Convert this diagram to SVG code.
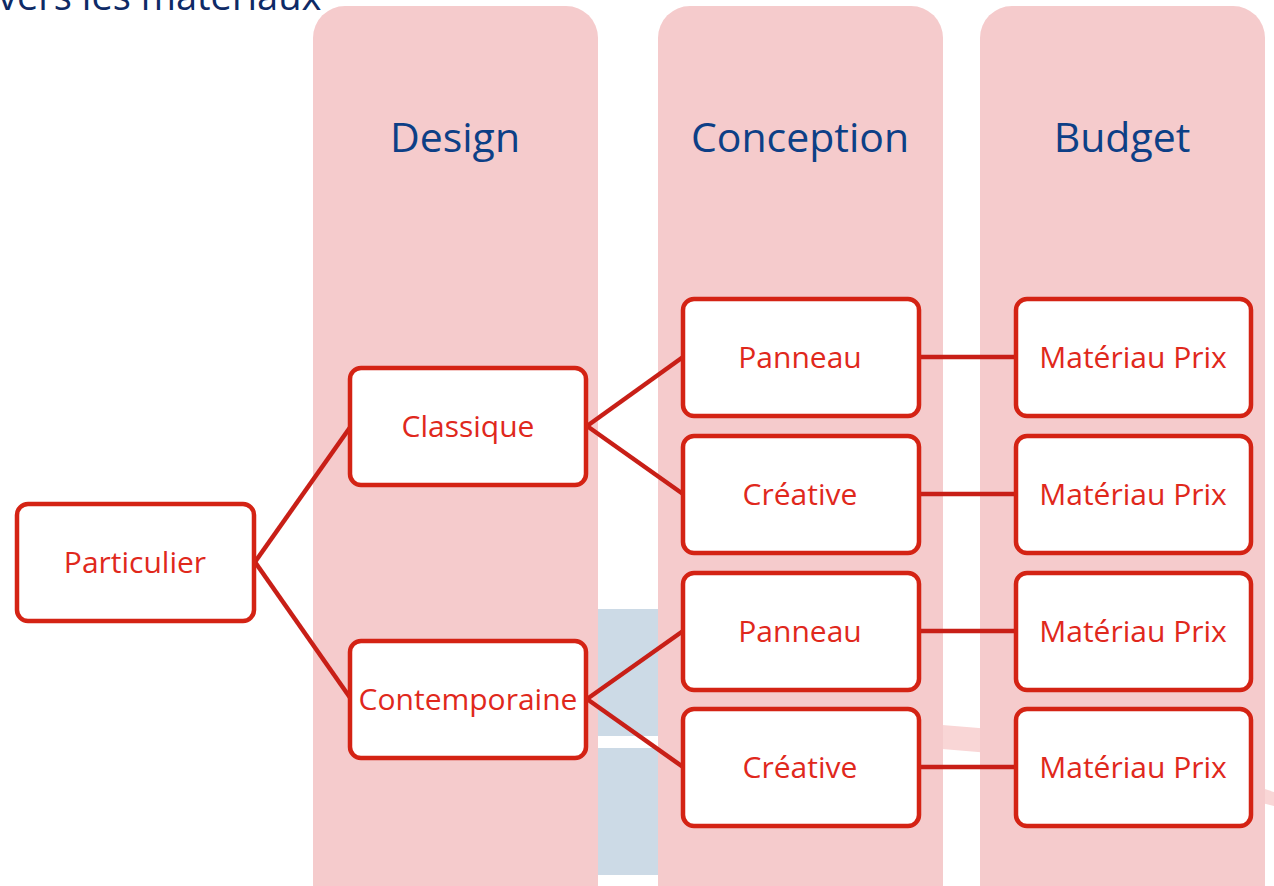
<svg xmlns="http://www.w3.org/2000/svg" width="1274" height="886" viewBox="0 0 1274 886">
<style>
.col{fill:#f5cbcc}
.hdr{font-family:"Open Sans","Liberation Sans",sans-serif;font-size:41px;fill:#0d3f86;text-anchor:middle}
.box{fill:#ffffff;stroke:#d42314;stroke-width:4.5}
.lbl{font-family:"Open Sans","Liberation Sans",sans-serif;font-size:30px;fill:#e0281c;text-anchor:middle}
.con{stroke:#c81f17;stroke-width:4.5;fill:none}
</style>
<rect width="1274" height="886" fill="#ffffff"/>
<g id="background">
<text x="-2" y="10" style="font-family:'Open Sans','Liberation Sans',sans-serif;font-size:38px;fill:#0e2a66">vers les matériaux</text>
<rect x="597" y="609" width="63" height="127" fill="#ccdae6"/>
<rect x="597" y="748" width="63" height="127" fill="#ccdae6"/>
<path d="M930 724 Q1100 735 1274 792 L1274 806 Q1100 760 930 748 Z" fill="#f9d6d6"/>
</g>
<g id="columns">
<g id="col-design"><rect class="col" x="313" y="6" width="285" height="910" rx="32"/><text class="hdr" x="455" y="152">Design</text></g>
<g id="col-conception"><rect class="col" x="658" y="6" width="285" height="910" rx="32"/><text class="hdr" x="800" y="152">Conception</text></g>
<g id="col-budget"><rect class="col" x="980" y="6" width="285" height="910" rx="32"/><text class="hdr" x="1122" y="152">Budget</text></g>
</g>
<g id="connectors">
<line class="con" x1="255" y1="562" x2="351" y2="426"/>
<line class="con" x1="255" y1="562" x2="351" y2="699"/>
<line class="con" x1="587" y1="426" x2="683" y2="357"/>
<line class="con" x1="587" y1="426" x2="683" y2="494"/>
<line class="con" x1="587" y1="699" x2="683" y2="631"/>
<line class="con" x1="587" y1="699" x2="683" y2="767"/>
<line class="con" x1="919" y1="357" x2="1016" y2="357"/>
<line class="con" x1="919" y1="494" x2="1016" y2="494"/>
<line class="con" x1="919" y1="631" x2="1016" y2="631"/>
<line class="con" x1="919" y1="767" x2="1016" y2="767"/>
</g>
<g id="n-particulier"><rect class="box" x="17" y="504" width="237" height="117" rx="11"/><text class="lbl" x="135" y="573">Particulier</text></g>
<g id="n-classique"><rect class="box" x="350" y="368" width="236" height="117" rx="11"/><text class="lbl" x="468" y="437">Classique</text></g>
<g id="n-contemporaine"><rect class="box" x="350" y="641" width="236" height="117" rx="11"/><text class="lbl" x="468" y="710">Contemporaine</text></g>
<g id="n-panneau1"><rect class="box" x="683" y="299" width="236" height="117" rx="11"/><text class="lbl" x="800" y="368">Panneau</text></g>
<g id="n-creative1"><rect class="box" x="683" y="436" width="236" height="117" rx="11"/><text class="lbl" x="800" y="505">Créative</text></g>
<g id="n-panneau2"><rect class="box" x="683" y="573" width="236" height="117" rx="11"/><text class="lbl" x="800" y="642">Panneau</text></g>
<g id="n-creative2"><rect class="box" x="683" y="709" width="236" height="117" rx="11"/><text class="lbl" x="800" y="778">Créative</text></g>
<g id="n-prix1"><rect class="box" x="1016" y="299" width="235" height="117" rx="11"/><text class="lbl" x="1133" y="368">Matériau Prix</text></g>
<g id="n-prix2"><rect class="box" x="1016" y="436" width="235" height="117" rx="11"/><text class="lbl" x="1133" y="505">Matériau Prix</text></g>
<g id="n-prix3"><rect class="box" x="1016" y="573" width="235" height="117" rx="11"/><text class="lbl" x="1133" y="642">Matériau Prix</text></g>
<g id="n-prix4"><rect class="box" x="1016" y="709" width="235" height="117" rx="11"/><text class="lbl" x="1133" y="778">Matériau Prix</text></g>
</svg>
